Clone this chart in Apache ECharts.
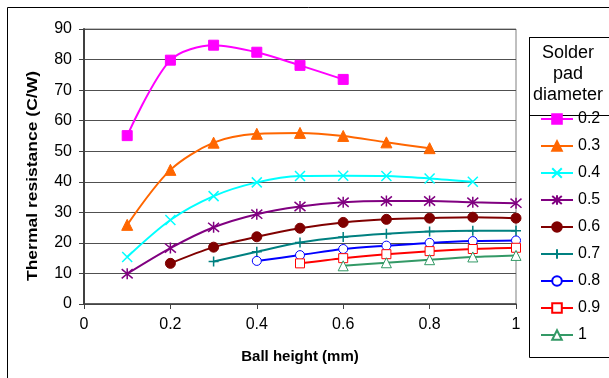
<!DOCTYPE html>
<html>
<head>
<meta charset="utf-8">
<script src="https://cdn.jsdelivr.net/npm/echarts@6/dist/echarts.min.js"></script>
<style>
  html, body { margin: 0; padding: 0; background: #fff; }
  #chart { width: 609px; height: 378px; }
</style>
</head>
<body>
<div id="chart"></div>
<script>
var chartDom = document.getElementById('chart');
var myChart = echarts.init(chartDom);

// ball height (mm)
var heights = [0.1, 0.2, 0.3, 0.4, 0.5, 0.6, 0.7, 0.8, 0.9, 1.0];
var xTicks = [0, 0.2, 0.4, 0.6, 0.8, 1];
var yTicks = [0, 10, 20, 30, 40, 50, 60, 70, 80, 90];

// thermal resistance (C/W) per solder pad diameter, null = no point
var pad02 = [55.1, 79.8, 84.7, 82.4, 78.1, 73.5, null, null, null, null];
var pad03 = [25.9, 43.9, 52.8, 55.7, 56.0, 55.0, 52.9, 51.0, null, null];
var pad04 = [15.4, 27.5, 35.3, 39.8, 41.9, 42.0, 41.9, 41.1, 40.0, null];
var pad05 = [9.9, 18.3, 25.1, 29.4, 31.9, 33.3, 33.7, 33.7, 33.3, 33.0];
var pad06 = [null, 13.3, 18.6, 22.0, 24.8, 26.7, 27.7, 28.1, 28.4, 28.1];
var pad07 = [null, null, 13.9, 17.1, 20.1, 21.9, 23.0, 23.7, 24.0, 24.0];
var pad08 = [null, null, null, 14.1, 16.0, 18.0, 19.1, 20.0, 20.6, 20.8];
var pad09 = [null, null, null, null, 13.3, 15.0, 16.3, 17.3, 18.0, 18.4];
var pad10 = [null, null, null, null, null, 12.5, 13.5, 14.5, 15.4, 15.9];

var names = ['0.2', '0.3', '0.4', '0.5', '0.6', '0.7', '0.8', '0.9', '1'];
var values = [pad02, pad03, pad04, pad05, pad06, pad07, pad08, pad09, pad10];
var colors = ['#FF00FF', '#FF6600', '#00FFFF', '#800080', '#800000', '#008080', '#0000FF', '#FF0000', '#339966'];

var crossPath = 'path://M0,0L10,10M10,0L0,10';
var starPath = 'path://M0,0L10,10M10,0L0,10M5,-1L5,11';
var plusPath = 'path://M5,0L5,10M0,5L10,5';

var markers = [
    { symbol: 'rect', size: 10, fill: true },
    { symbol: 'triangle', size: 11, fill: true },
    { symbol: crossPath, size: 10, fill: false },
    { symbol: starPath, size: 11, fill: false },
    { symbol: 'circle', size: 10, fill: true },
    { symbol: plusPath, size: 10, fill: false },
    { symbol: 'circle', size: 9, fill: false },
    { symbol: 'rect', size: 9, fill: false },
    { symbol: 'triangle', size: 10, fill: false }
];

var fontFam = 'Liberation Sans, Arial, sans-serif';

function toPairs(arr) {
    var out = [];
    for (var i = 0; i < heights.length; i++) {
        if (arr[i] != null) out.push([heights[i], arr[i]]);
    }
    return out;
}

var series = [];
for (var k = 0; k < names.length; k++) {
    var m = markers[k];
    var isPath = m.symbol.indexOf('path://') === 0;
    series.push({
        name: names[k],
        type: 'line',
        smooth: 0.3,
        symbol: m.symbol,
        symbolSize: m.size,
        showAllSymbol: true,
        itemStyle: {
            color: isPath ? colors[k] : (m.fill ? colors[k] : '#ffffff'),
            borderColor: colors[k],
            borderWidth: isPath ? 1.5 : 1,
            opacity: 1
        },
        lineStyle: { color: colors[k], width: 2 },
        emphasis: { disabled: true },
        data: toPairs(values[k])
    });
}

var option = {
    animation: false,
    backgroundColor: '#fff',
    textStyle: { fontFamily: fontFam },
    grid: {
        left: 84,
        right: 93,
        top: 29,
        bottom: 74,
        show: true,
        borderColor: '#808080',
        borderWidth: 1
    },
    legend: {
        orient: 'vertical',
        left: 540,
        top: 111,
        padding: 0,
        itemWidth: 32,
        itemHeight: 12,
        itemGap: 11,
        textStyle: { fontSize: 16, color: '#000', lineHeight: 16 },
        data: names
    },
    xAxis: {
        type: 'value',
        min: 0,
        max: 1,
        interval: 0.2,
        name: 'Ball height (mm)',
        nameLocation: 'middle',
        nameGap: 45,
        nameTextStyle: { fontSize: 15, fontWeight: 'bold', color: '#000' },
        axisLine: { show: true, onZero: false, lineStyle: { color: '#404040', width: 1.5 } },
        axisTick: { show: true, length: 5, lineStyle: { color: '#404040' } },
        axisLabel: {
            fontSize: 16,
            color: '#000',
            margin: 13,
            formatter: function (v) {
                var s = Math.round(v * 10) / 10;
                return xTicks.indexOf(s) >= 0 ? String(s) : '';
            }
        },
        splitLine: { show: false }
    },
    yAxis: {
        type: 'value',
        min: 0,
        max: 90,
        interval: 10,
        axisLine: { show: true, lineStyle: { color: '#404040', width: 2 } },
        axisTick: { show: true, length: 5, lineStyle: { color: '#404040' } },
        axisLabel: {
            fontSize: 16,
            color: '#000',
            margin: 12,
            formatter: function (v) { return yTicks.indexOf(v) >= 0 ? String(v) : ''; }
        },
        splitLine: { show: true, lineStyle: { color: '#505050', width: 1 } }
    },
    graphic: [
        // outer chart frame
        { type: 'rect', left: 5, top: 5, shape: { width: 700, height: 400 }, style: { fill: 'none', stroke: '#000', lineWidth: 1 }, silent: true },
        // legend frame
        { type: 'rect', left: 527, top: 35, shape: { width: 120, height: 320 }, style: { fill: 'none', stroke: '#000', lineWidth: 1 }, silent: true },
        // legend title frame
        { type: 'rect', left: 527, top: 35, shape: { width: 120, height: 78 }, style: { fill: 'none', stroke: '#000', lineWidth: 1 }, silent: true },
        {
            type: 'text', x: 568, y: 74,
            style: {
                text: 'Solder\npad\ndiameter',
                align: 'center',
                verticalAlign: 'middle',
                fontSize: 18,
                lineHeight: 21,
                fill: '#000',
                fontFamily: fontFam
            },
            silent: true
        },
        // y axis title
        {
            type: 'text', x: 33, y: 176,
            rotation: Math.PI / 2,
            scaleY: 0.8,
            style: {
                text: 'Thermal resistance (C/W)',
                align: 'center',
                verticalAlign: 'middle',
                fontSize: 17.5,
                fontWeight: 'bold',
                fill: '#000',
                fontFamily: fontFam
            },
            silent: true
        }
    ],
    series: series
};

option && myChart.setOption(option);

window.addEventListener('resize', function () {
    myChart.resize();
});
</script>
</body>
</html>
